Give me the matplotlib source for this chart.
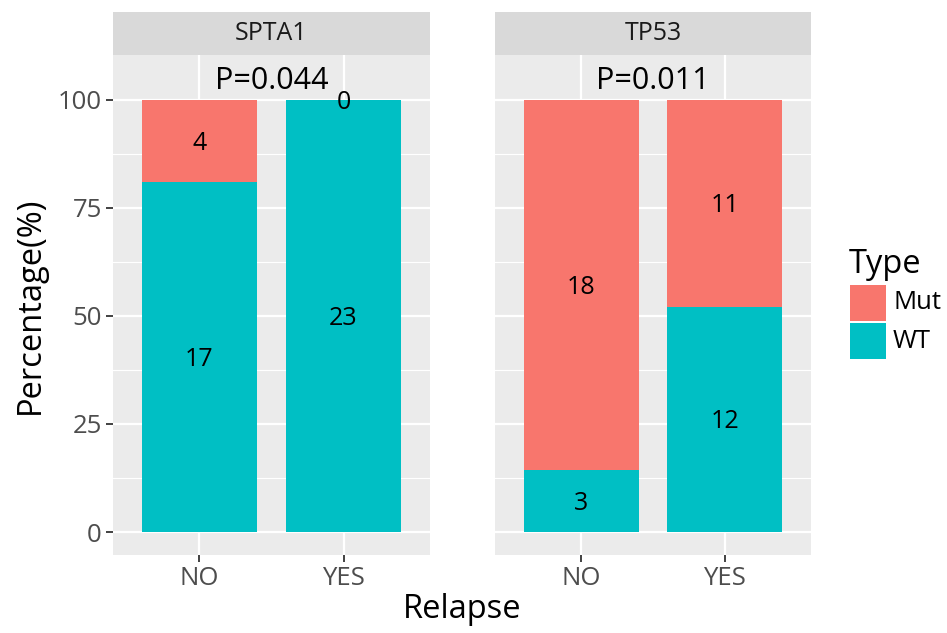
import numpy as np
import matplotlib.pyplot as plt
from matplotlib.patches import Rectangle

plt.rcParams['font.family'] = ['Open Sans', 'DejaVu Sans']

# data
genes = ['SPTA1', 'TP53']
groups = ['NO', 'YES']
mut_counts = {'SPTA1': [4, 0], 'TP53': [18, 11]}
wt_counts = {'SPTA1': [17, 23], 'TP53': [3, 12]}
p_values = {'SPTA1': 'P=0.044', 'TP53': 'P=0.011'}
yticks = [0, 25, 50, 75, 100]
types = ['Mut', 'WT']

col_mut = '#F8766D'
col_wt = '#00BFC4'

W, H = 947, 633
fig = plt.figure(figsize=(W / 100, H / 100), dpi=100)

panels = [(113, 430), (495, 811)]
top, bot, strip_top = 55, 555, 12

for gi, gene in enumerate(genes):
    x0, x1 = panels[gi]
    ax = fig.add_axes([x0 / W, (H - bot) / H, (x1 - x0) / W, (bot - top) / H])
    ax.set_facecolor('#EBEBEB')
    for s in ax.spines.values():
        s.set_visible(False)

    mut = np.array(mut_counts[gene], dtype=float)
    wt = np.array(wt_counts[gene], dtype=float)
    tot = mut + wt
    wt_pct = wt / tot * 100
    mut_pct = mut / tot * 100
    x = np.arange(1, len(groups) + 1)

    ax.bar(x, wt_pct, width=0.8, color=col_wt, zorder=3)
    ax.bar(x, mut_pct, bottom=wt_pct, width=0.8, color=col_mut, zorder=3)
    for xi, w, m, wp, mp in zip(x, wt, mut, wt_pct, mut_pct):
        ax.annotate(f'{int(w)}', (xi, wp / 2), xytext=(0, -1.5), textcoords='offset points',
                    ha='center', va='center', fontsize=18, color='black', zorder=4)
        ax.annotate(f'{int(m)}', (xi, wp + mp / 2), xytext=(0, -1.5), textcoords='offset points',
                    ha='center', va='center', fontsize=18, color='black', zorder=4)
    ax.annotate(p_values[gene], (1.5, 105), xytext=(0, -2), textcoords='offset points',
                ha='center', va='center', fontsize=22, color='black', zorder=4)

    ax.set_xlim(0.4, 2.6)
    ax.set_ylim(-5.32, 110.4)
    ax.set_xticks(x)
    ax.set_xticklabels(groups)
    ax.set_yticks(yticks)
    ax.set_yticks([12.5, 37.5, 62.5, 87.5], minor=True)
    ax.grid(True, which='major', color='white', linewidth=1.6, zorder=0)
    ax.grid(True, which='minor', axis='y', color='white', linewidth=0.8, zorder=0)
    ax.set_axisbelow(True)
    ax.tick_params(which='major', length=5, width=1.3, color='#333333', labelcolor='#4D4D4D', labelsize=18.5, pad=3)
    ax.tick_params(which='minor', length=0)
    if gi == 0:
        ax.set_ylabel('Percentage(%)', fontsize=23.5, labelpad=8)
    else:
        ax.tick_params(axis='y', length=0, labelleft=False)

    # facet strip
    sax = fig.add_axes([x0 / W, (H - top) / H, (x1 - x0) / W, (top - strip_top) / H])
    sax.set_facecolor('#D9D9D9')
    sax.set_xticks([])
    sax.set_yticks([])
    for s in sax.spines.values():
        s.set_visible(False)
    sax.text(0.5, 0.5, gene, ha='center', va='center', fontsize=18, color='#1A1A1A', transform=sax.transAxes)

fig.text((113 + 811) / 2 / W, 1 - 610 / H, 'Relapse', ha='center', va='center', fontsize=23.5)

# legend drawn in figure pixels
fig.text(849 / W, 1 - 273 / H, 'Type', ha='left', va='baseline', fontsize=23.5)
for i, (lab, col) in enumerate(zip(types, [col_mut, col_wt])):
    ky = 285 + i * 38
    fig.add_artist(Rectangle((850 / W, 1 - (ky + 36) / H), 36 / W, 36 / H,
                             transform=fig.transFigure, facecolor=col, edgecolor='none'))
    fig.text(893 / W, 1 - (ky + 18) / H, lab, ha='left', va='center', fontsize=18.5)

fig.savefig('out.png', dpi=100)
